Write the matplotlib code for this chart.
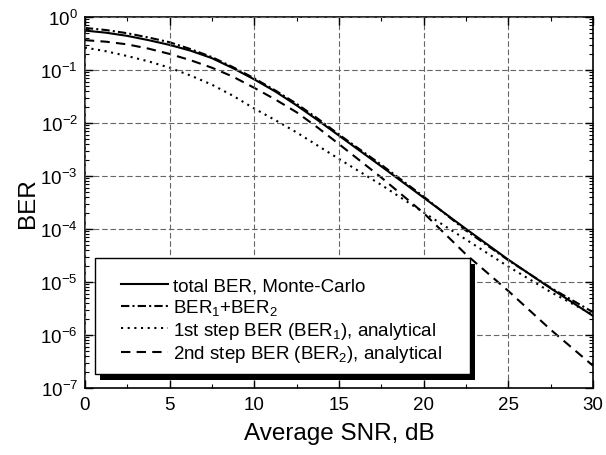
import numpy as np
import matplotlib
matplotlib.use("Agg")
import matplotlib.pyplot as plt
from matplotlib.patches import Rectangle
from matplotlib.ticker import MultipleLocator, LogLocator, NullFormatter

plt.rcParams['font.family'] = ['Liberation Sans', 'DejaVu Sans']
plt.rcParams['mathtext.fontset'] = 'custom'
plt.rcParams['mathtext.rm'] = 'Liberation Sans'
plt.rcParams['mathtext.it'] = 'Liberation Sans'
plt.rcParams['mathtext.default'] = 'regular'
plt.rcParams['axes.unicode_minus'] = False

# ---- data (BER values as log10) ----
snr_db = [0, 1.25, 2.5, 3.75, 5, 6.25, 7.5, 8.75, 10, 11.25, 12.5, 13.75, 15,
          17.5, 20, 22.5, 25, 27.5, 30]
total_ber_mc_log10 = [-0.26, -0.30, -0.36, -0.44, -0.53, -0.64, -0.78, -0.97, -1.18, -1.41, -1.67, -1.95, -2.24,
                      -2.82, -3.41, -4.00, -4.58, -5.12, -5.64]
ber_sum_log10      = [-0.21, -0.25, -0.31, -0.39, -0.48, -0.61, -0.76, -0.95, -1.16, -1.39, -1.64, -1.92, -2.22,
                      -2.79, -3.39, -4.03, -4.59, -5.11, -5.57]
ber1_log10         = [-0.58, -0.65, -0.74, -0.84, -0.96, -1.11, -1.28, -1.49, -1.73, -1.95, -2.18, -2.43, -2.68,
                      -3.17, -3.69, -4.20, -4.71, -5.19, -5.62]
ber2_log10         = [-0.44, -0.47, -0.52, -0.60, -0.70, -0.82, -0.96, -1.13, -1.34, -1.56, -1.80, -2.09, -2.40,
                      -3.03, -3.70, -4.48, -5.17, -5.90, -6.58]

labels = ["total BER, Monte-Carlo",
          "BER$_1$+BER$_2$",
          "1st step BER (BER$_1$), analytical",
          "2nd step BER (BER$_2$), analytical"]

fig = plt.figure(figsize=(6.06, 4.56), dpi=100)
ax = fig.add_axes([0.140, 0.147, 0.8385, 0.814])

lw = 1.5
l1, = ax.plot(snr_db, 10.0 ** np.array(total_ber_mc_log10), color='black', lw=lw, ls='-')
l2, = ax.plot(snr_db, 10.0 ** np.array(ber_sum_log10), color='black', lw=lw, dashes=(4, 1.5, 1, 1.5))
l3, = ax.plot(snr_db, 10.0 ** np.array(ber1_log10), color='black', lw=lw, dashes=(1, 2.2))
l4, = ax.plot(snr_db, 10.0 ** np.array(ber2_log10), color='black', lw=lw, dashes=(4.5, 3))

ax.set_yscale('log')
ax.set_xlim(0, 30)
ax.set_ylim(1e-7, 1)
ax.xaxis.set_major_locator(MultipleLocator(5))
ax.xaxis.set_minor_locator(MultipleLocator(2.5))
ax.yaxis.set_major_locator(LogLocator(base=10, numticks=20))
ax.yaxis.set_minor_locator(LogLocator(base=10, subs=np.arange(2, 10), numticks=20))
ax.yaxis.set_minor_formatter(NullFormatter())

ax.tick_params(axis='both', which='both', direction='in', top=True, right=True, colors='black')
ax.tick_params(axis='both', which='major', length=6, width=1, labelsize=13.5)
ax.tick_params(axis='both', which='minor', length=3, width=0.8)
ax.tick_params(axis='x', which='major', pad=6)
ax.tick_params(axis='y', which='major', pad=5)
for s in ax.spines.values():
    s.set_linewidth(1.2)
    s.set_color('black')

ax.grid(True, which='major', color='0.4', lw=0.8, dashes=(5, 2.5))
ax.set_axisbelow(False)

ax.set_xlabel("Average SNR, dB", fontsize=17.5, labelpad=6)
ax.set_ylabel("BER", fontsize=17.5, labelpad=1)

# legend frame with black shadow
bx, by, bw, bh = 0.0197, 0.037, 0.738, 0.312
sdx, sdy = 5.5 / 508, 6.0 / 371.3
ax.add_patch(Rectangle((bx + sdx, by - sdy), bw, bh, transform=ax.transAxes,
                       facecolor='black', edgecolor='black', lw=0, zorder=5))
ax.add_patch(Rectangle((bx, by), bw, bh, transform=ax.transAxes,
                       facecolor='white', edgecolor='black', lw=1.0, zorder=6))
leg = ax.legend([l1, l2, l3, l4], labels, loc='upper left',
                bbox_to_anchor=(0.072, 0.298), frameon=False, fontsize=13.5,
                handlelength=2.5, handletextpad=0.25, labelspacing=0.14,
                borderpad=0, borderaxespad=0)
leg.set_zorder(7)

fig.savefig("out.png", dpi=100)
